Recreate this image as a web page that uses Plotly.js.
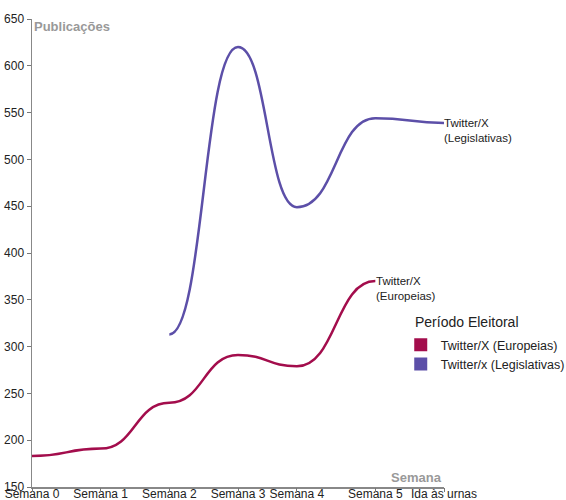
<!DOCTYPE html>
<html>
<head>
<meta charset="utf-8">
<script src="https://cdn.plot.ly/plotly-3.0.1.min.js"></script>
<style>html,body{margin:0;padding:0;background:#fff}#chart{width:566px;height:500px}</style>
</head>
<body>
<div id="chart"></div>
<script>
// Tick labels and their positions in days since the start of the series
const weekLabels = ["Semana 0", "Semana 1", "Semana 2", "Semana 3", "Semana 4", "Semana 5", "Ida às urnas"];
const weekDays = [0, 7, 14, 21, 27, 35, 42];
const yTicks = [150, 200, 250, 300, 350, 400, 450, 500, 550, 600, 650];

// Series
const europeiasName = "Twitter/X (Europeias)";
const europeiasDays = [0, 7, 14, 21, 27, 35];
const europeiasValues = [183, 191, 240, 291, 279, 370];

const legislativasName = "Twitter/x (Legislativas)";
const legislativasDays = [14, 21, 27, 35, 42];
const legislativasValues = [313, 620, 449, 544, 539];

const colEur = "#a30d4c";
const colLeg = "#5c4fa8";
const font = "Liberation Sans, Arial, sans-serif";

// Smooth "bump" curve through the data points, drawn in data coordinates
function bumpPath(xs, ys) {
  let d = "M" + xs[0] + "," + ys[0];
  for (let i = 1; i < xs.length; i++) {
    const xm = (xs[i - 1] + xs[i]) / 2;
    d += " C" + xm + "," + ys[i - 1] + " " + xm + "," + ys[i] + " " + xs[i] + "," + ys[i];
  }
  return d;
}

const traces = [
  {x: europeiasDays, y: europeiasValues, mode: "lines", line: {color: "rgba(0,0,0,0)", width: 0}, showlegend: false, hoverinfo: "skip"},
  {x: legislativasDays, y: legislativasValues, mode: "lines", line: {color: "rgba(0,0,0,0)", width: 0}, showlegend: false, hoverinfo: "skip"},
  {x: [null], y: [null], xaxis: "x2", mode: "markers", name: europeiasName, marker: {symbol: "square", size: 13, color: colEur}},
  {x: [null], y: [null], xaxis: "x2", mode: "markers", name: legislativasName, marker: {symbol: "square", size: 13, color: colLeg}}
];

const layout = {
  width: 566, height: 500,
  margin: {l: 32, r: 122, t: 19, b: 13, autoexpand: false},
  paper_bgcolor: "#fff", plot_bgcolor: "#fff",
  font: {family: font, size: 12, color: "#222"},
  xaxis: {
    range: [0, 42], tickvals: weekDays, ticktext: weekLabels,
    showgrid: false, zeroline: false, showline: true, linecolor: "#888", linewidth: 1.5,
    ticks: "", automargin: false, ticklabelstandoff: -5,
    tickfont: {size: 12, color: "#222"}
  },
  xaxis2: {
    overlaying: "x", anchor: "y", side: "bottom", range: [0, 42], tickvals: weekDays,
    showticklabels: false, showgrid: false, zeroline: false, showline: false,
    ticks: "outside", ticklen: 4, tickcolor: "#777", tickwidth: 1, automargin: false
  },
  yaxis: {
    range: [150, 650], tickvals: yTicks,
    showgrid: false, zeroline: false, showline: true, linecolor: "#888", linewidth: 1.5,
    ticks: "outside", ticklen: 4, tickcolor: "#777", automargin: false,
    tickfont: {size: 12, color: "#222"}
  },
  showlegend: true,
  legend: {
    x: 0.895, y: 0.335, xanchor: "left", yanchor: "top",
    font: {size: 12.5, color: "#222"}, bgcolor: "rgba(0,0,0,0)", tracegroupgap: 0, itemwidth: 30
  },
  shapes: [
    {type: "path", xref: "x", yref: "y", path: bumpPath(europeiasDays, europeiasValues),
     line: {color: colEur, width: 2.5}, fillcolor: "rgba(0,0,0,0)", layer: "above"},
    {type: "path", xref: "x", yref: "y", path: bumpPath(legislativasDays, legislativasValues),
     line: {color: colLeg, width: 2.5}, fillcolor: "rgba(0,0,0,0)", layer: "above"}
  ],
  annotations: [
    {xref: "paper", yref: "paper", x: 0.001, y: 1, yshift: 2, xanchor: "left", yanchor: "top", showarrow: false,
     text: "<b>Publicações</b>", font: {size: 13, color: "#999"}},
    {xref: "paper", yref: "paper", x: 1, y: 0.008, yshift: -4, xanchor: "right", yanchor: "bottom", showarrow: false,
     text: "<b>Semana</b>", font: {size: 13, color: "#999"}},
    {xref: "paper", yref: "paper", x: 0.925, y: 0.353, xanchor: "left", yanchor: "middle", showarrow: false,
     text: "Período Eleitoral", font: {size: 14, color: "#222"}},
    {x: legislativasDays[legislativasDays.length - 1], y: legislativasValues[legislativasValues.length - 1],
     xanchor: "left", yanchor: "top", yshift: 8, xshift: -2, showarrow: false, align: "left",
     text: "Twitter/X<br>(Legislativas)", font: {size: 11.5, color: "#222"}},
    {x: europeiasDays[europeiasDays.length - 1], y: europeiasValues[europeiasValues.length - 1],
     xanchor: "left", yanchor: "top", yshift: 8, xshift: -1, showarrow: false, align: "left",
     text: "Twitter/X<br>(Europeias)", font: {size: 11.5, color: "#222"}}
  ]
};

Plotly.newPlot("chart", traces, layout, {displayModeBar: false, staticPlot: true});
</script>
</body>
</html>
